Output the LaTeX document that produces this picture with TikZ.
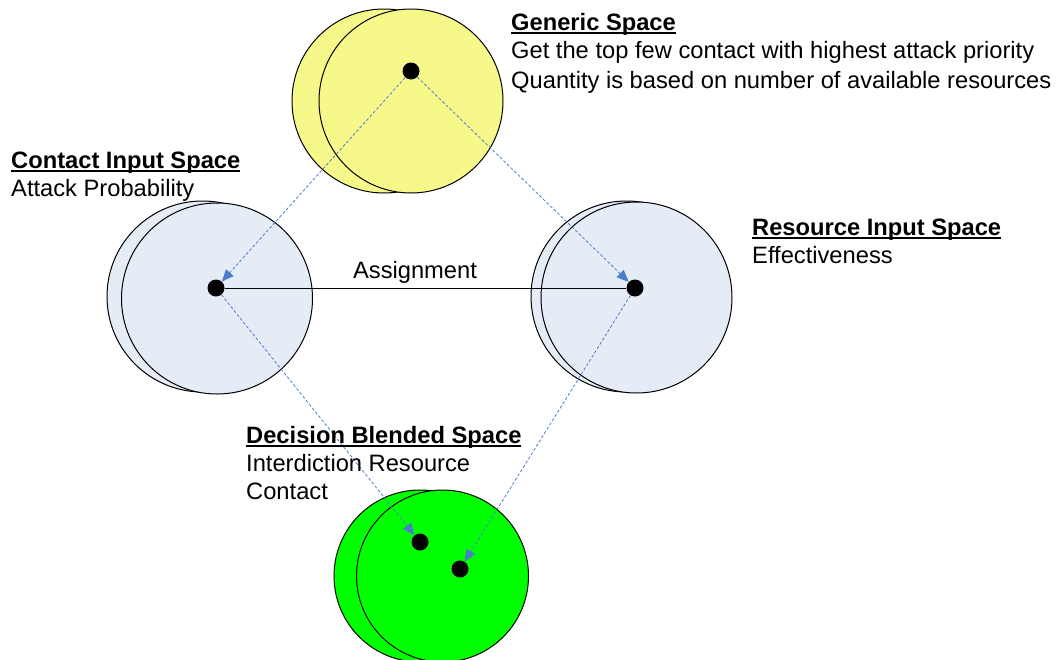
\documentclass[tikz,border=0pt]{standalone}
\usepackage{fontspec}
\setmainfont{Liberation Sans}
\usetikzlibrary{arrows.meta}
\definecolor{yel}{RGB}{246,249,138}
\definecolor{lblue}{RGB}{230,236,246}
\definecolor{grn}{RGB}{0,255,0}
\definecolor{arrblue}{RGB}{74,126,201}
\newcommand{\ulx}[1]{\setbox0\hbox{#1}\rlap{\rule[-3.6pt]{\wd0}{1.7pt}}\box0}
\tikzset{
  disc/.style={draw=black, line width=1pt},
  dot/.style={circle, fill=black, inner sep=0pt, minimum size=17pt},
  txt/.style={anchor=base west, inner sep=0pt, font=\fontsize{23.7}{29}\selectfont},
  arr/.style={draw=arrblue, line width=0.8pt, dash pattern=on 3pt off 2pt, -{Triangle[length=12pt,width=10pt]}},
  link/.style={draw=black, line width=1pt}
}
\begin{document}
\begin{tikzpicture}[x=1pt,y=-1pt]
\useasboundingbox (0,0) rectangle (1057,659);
% Generic space (yellow)
\draw[disc, fill=yel] (384,101) circle (92pt);
\draw[disc, fill=yel] (411,101) circle (92pt);
% Contact input space
\draw[disc, fill=lblue] (202.5,296.5) circle (95.5pt);
\draw[disc, fill=lblue] (217,298.5) circle (95.5pt);
% Resource input space
\draw[disc, fill=lblue] (626.5,296.5) circle (95.5pt);
\draw[disc, fill=lblue] (636.5,297.5) circle (95.5pt);
% Decision blended space
\draw[disc, fill=grn] (420,576) circle (86pt);
\draw[disc, fill=grn] (442.5,576) circle (86pt);
% dots
\node[dot] (g) at (411,71) {};
\node[dot] (c) at (216,288) {};
\node[dot] (r) at (635,288) {};
\node[dot] (d1) at (420,542) {};
\node[dot] (d2) at (460,569) {};
% connectors
\draw[link] (c) -- (r);
\draw[arr] (g) -- (c);
\draw[arr] (g) -- (r);
\draw[arr] (c) -- (d1);
\draw[arr] (r) -- (d2);
% texts
\node[txt] (gt) at (511,30) {\ulx{\textbf{Generic Space}}};
\node[txt] (g1) at (511,58) {Get the top few contact with highest attack priority};
\node[txt] (g2) at (511,88) {Quantity is based on number of available resources};
\node[txt] (ct) at (11,168) {\ulx{\textbf{Contact Input Space}}};
\node[txt] (c1) at (11,196) {Attack Probability};
\node[txt] (rt) at (752,235) {\ulx{\textbf{Resource Input Space}}};
\node[txt] (r1) at (752,263) {Effectiveness};
\node[txt] (dt) at (246,443) {\ulx{\textbf{Decision Blended Space}}};
\node[txt] (dl1) at (246,471) {Interdiction Resource};
\node[txt] (dl2) at (246,499) {Contact};
\node[txt, anchor=base] (as) at (415,278) {Assignment};
\end{tikzpicture}
\end{document}
